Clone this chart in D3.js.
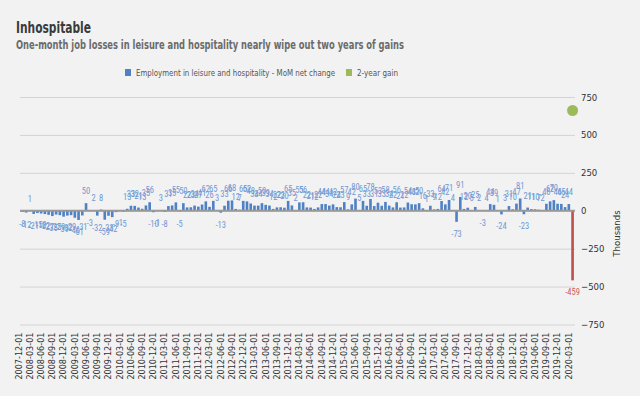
<!DOCTYPE html>
<html>
<head>
<meta charset="utf-8">
<script src="https://cdn.jsdelivr.net/npm/d3@7"></script>
<style>
  body { margin: 0; background: #f2f2f2; }
  svg { display: block; font-family: "DejaVu Sans Condensed", "DejaVu Sans", sans-serif; font-stretch: condensed; }
</style>
</head>
<body>
<svg width="640" height="396"></svg>
<script>
// monthly net change, leisure and hospitality, thousands (2007-12 .. 2020-03)
const firstMonth = "2007-12-01";
const changes = [
  -8, -12, 1, -21, -15, -18, -22, -27, -35, -25, -29, -39, -32,
  -29, -46, -61, -31, 50, -3, 2, -32, 8, -59, -33, -42,
  -9, -1, -5, 13, 33, 32, 21, 13, 35, 56, -10, -1,
  3, -8, 31, 35, 55, -5, 50, 22, 23, 34, 27, 41,
  62, 26, 65, 3, -13, 33, 66, 68, 12, 7, 65, 62,
  48, 34, 34, 50, 39, 34, 12, 22, 23, 20, 65, 35,
  2, 55, 56, 22, 21, 12, 22, 44, 44, 34, 42, 24,
  23, 57, 9, 42, 80, 5, 65, 33, 78, 31, 53, 33,
  58, 34, 22, 56, 21, 22, 54, 43, 42, 50, 16, 1,
  33, 9, 12, 64, 42, 71, 4, -73, 91, 12, 20, 5,
  25, 2, -3, 4, 44, 39, 1, -24, 3, 31, 10, 47,
  81, -23, 21, 11, 10, 7, 2, 46, 62, 70, 46, 45,
  24, 44, -459
];
const gainMonth = "2020-03-01";
const twoYearGain = 661;
const yTicks = [-750, -500, -250, 0, 250, 500, 750];

const svg = d3.select("svg");
const margin = {top: 97, right: 65, bottom: 72, left: 20};
const width = 640, height = 396;

const parse = d3.utcParse("%Y-%m-%d");
const fmt = d3.utcFormat("%Y-%m-%d");
const months = d3.utcMonth.range(parse(firstMonth), d3.utcMonth.offset(parse(firstMonth), changes.length)).map(fmt);
const data = months.map((m, i) => ({month: m, value: changes[i]}));

const x = d3.scaleBand()
  .domain(months)
  .range([margin.left, width - margin.right])
  .padding(0.3);

const y = d3.scaleLinear()
  .domain([-750, 750])
  .range([height - margin.bottom + 0.5, margin.top]);

// titles
svg.append("text")
  .attr("x", 16).attr("y", 33)
  .attr("font-size", 15).attr("font-weight", "bold").attr("fill", "#3a3a3a")
  .attr("textLength", 75).attr("lengthAdjust", "spacingAndGlyphs")
  .text("Inhospitable");
svg.append("text")
  .attr("x", 16).attr("y", 49)
  .attr("font-size", 12).attr("font-weight", "bold").attr("fill", "#6b6b6b")
  .attr("textLength", 388).attr("lengthAdjust", "spacingAndGlyphs")
  .text("One-month job losses in leisure and hospitality nearly wipe out two years of gains");

// legend
const legend = svg.append("g").attr("font-size", 8.5);
legend.append("rect").attr("x", 125).attr("y", 69).attr("width", 6).attr("height", 7).attr("fill", "#4f81c4");
legend.append("text").attr("x", 136).attr("y", 76).attr("fill", "#555")
  .attr("textLength", 199).attr("lengthAdjust", "spacingAndGlyphs")
  .text("Employment in leisure and hospitality - MoM net change");
legend.append("rect").attr("x", 346).attr("y", 69).attr("width", 6).attr("height", 7).attr("fill", "#9bbb59");
legend.append("text").attr("x", 357).attr("y", 76).attr("fill", "#555")
  .attr("textLength", 41).attr("lengthAdjust", "spacingAndGlyphs")
  .text("2-year gain");

// grid + right axis
svg.append("g")
  .attr("transform", `translate(${width - margin.right},0)`)
  .call(d3.axisRight(y).tickValues(yTicks).tickSize(-(width - margin.right - margin.left)).tickPadding(6))
  .call(g => g.select(".domain").remove())
  .call(g => g.selectAll(".tick line").attr("stroke", "#d4d4d4"))
  .call(g => g.selectAll(".tick text").attr("fill", "#333").attr("font-size", 9.5)
    .attr("font-family", "\"DejaVu Sans\", sans-serif"));

svg.append("text")
  .attr("transform", `translate(620,${y(-150)}) rotate(-90)`)
  .attr("text-anchor", "middle")
  .attr("font-size", 9.5).attr("fill", "#333")
  .attr("font-family", "\"DejaVu Sans\", sans-serif")
  .text("Thousands");

// x axis labels every 3 months
svg.append("g")
  .attr("transform", `translate(0,${y(-750)})`)
  .call(d3.axisBottom(x).tickValues(months.filter((d, i) => i % 3 === 0)).tickSize(0).tickPadding(4))
  .call(g => g.select(".domain").remove())
  .call(g => g.selectAll(".tick text")
    .attr("transform", "rotate(-90)")
    .attr("text-anchor", "end")
    .attr("dx", "-0.45em")
    .attr("dy", "-0.1em")
    .attr("y", 0).attr("x", -4)
    .attr("fill", "#333").attr("font-size", 9)
    .attr("font-family", "\"DejaVu Sans\", sans-serif"));

// bars
svg.append("g")
  .selectAll("rect")
  .data(data)
  .join("rect")
    .attr("x", d => x(d.month))
    .attr("width", x.bandwidth())
    .attr("y", d => y(Math.max(0, d.value)))
    .attr("height", d => Math.abs(y(d.value) - y(0)))
    .attr("fill", d => d.value < -100 ? "#c0504d" : "#4f81c4");

// zero line
svg.append("line")
  .attr("x1", margin.left).attr("x2", width - margin.right)
  .attr("y1", y(0)).attr("y2", y(0))
  .attr("stroke", "#999").attr("stroke-width", 2);

// bar labels
svg.append("g")
  .attr("font-size", 8.5).attr("text-anchor", "middle")
  .attr("font-family", "Roboto, sans-serif")
  .selectAll("text")
  .data(data)
  .join("text")
    .attr("x", d => x(d.month) + x.bandwidth() / 2)
    .attr("y", d => d.value >= 0 ? y(d.value) - 9 : y(d.value) + 15)
    .attr("fill", d => d.value < -100 ? "#d05a55" : "#7099d3")
    .text(d => d.value);

// 2-year gain
svg.append("circle")
  .attr("cx", x(gainMonth) + x.bandwidth() / 2)
  .attr("cy", y(twoYearGain))
  .attr("r", 5.5)
  .attr("fill", "#9bbb59");
</script>
</body>
</html>
